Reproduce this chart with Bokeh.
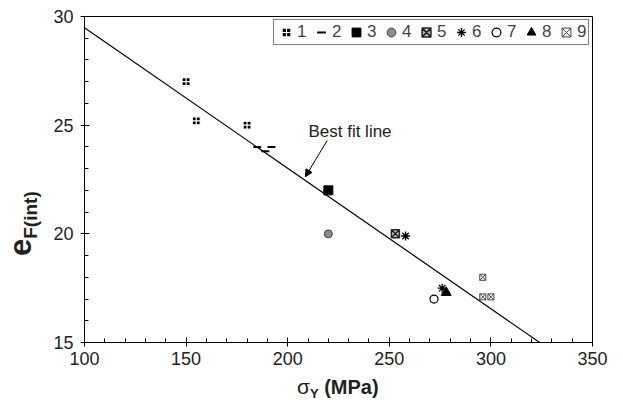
from bokeh.plotting import figure
from bokeh.models import (SingleIntervalTicker, Label, Arrow, NormalHead, Legend, LegendItem, Range1d, Div)
from bokeh.layouts import row, column
from bokeh.embed import file_html
from bokeh.resources import INLINE

# ---- data ----
s1_x = [150, 155, 180]
s1_y = [27.0, 25.2, 25.0]
s2_x = [185, 189, 192]
s2_y = [24.0, 23.8, 24.0]
s3_x = [220]
s3_y = [22.0]
s4_x = [220]
s4_y = [20.0]
s5_x = [253]
s5_y = [20.0]
s6_x = [258, 276]
s6_y = [19.9, 17.5]
s7_x = [272]
s7_y = [17.0]
s8_x = [278]
s8_y = [17.3]
s9_x = [296, 296, 300]
s9_y = [18.0, 17.1, 17.1]

fit_x = [100, 324]
fit_y = [29.48, 15.0]

x_ticks_interval = 50
y_ticks_interval = 5

FONT = "Liberation Sans"

p = figure(width=579, height=372, output_backend="svg", toolbar_location=None,
           x_range=Range1d(100, 350), y_range=Range1d(15, 30),
           min_border_left=40, min_border_right=31, min_border_top=16, min_border_bottom=30)

p.xgrid.visible = False
p.ygrid.visible = False
p.outline_line_color = "black"
p.outline_line_width = 1
p.background_fill_color = "white"
p.border_fill_color = "white"

p.xaxis.ticker = SingleIntervalTicker(interval=x_ticks_interval, num_minor_ticks=5)
p.yaxis.ticker = SingleIntervalTicker(interval=y_ticks_interval, num_minor_ticks=5)
for ax in (p.xaxis, p.yaxis):
    ax.axis_line_color = "black"
    ax.major_tick_line_color = "black"
    ax.minor_tick_line_color = "black"
    ax.major_tick_in = 5
    ax.major_tick_out = 4
    ax.minor_tick_in = 4
    ax.minor_tick_out = 0
    ax.major_label_text_font = FONT
    ax.major_label_text_font_size = "18px"
    ax.major_label_text_color = "#222222"
p.yaxis.major_label_standoff = 7
p.xaxis.major_label_standoff = 5

# best fit line
p.line(fit_x, fit_y, line_color="black", line_width=1.2)

r1 = p.scatter(s1_x, s1_y, marker="square_cross", size=8, fill_color="black", line_color="white", line_width=1.2)
r2 = p.scatter(s2_x, s2_y, marker="dash", size=8, line_color="black", line_width=2)
r3 = p.scatter(s3_x, s3_y, marker="square", size=9, fill_color="black", line_color="black")
r4 = p.scatter(s4_x, s4_y, marker="circle", size=8, fill_color="#8c8c8c", line_color="#444444")
r5 = p.scatter(s5_x, s5_y, marker="square_x", size=8, fill_color="#bdbdbd", line_color="#222222", line_width=1.5)
r6 = p.scatter(s6_x, s6_y, marker="asterisk", size=9, line_color="black", line_width=1.3)
r7 = p.scatter(s7_x, s7_y, marker="circle", size=8, fill_color="white", line_color="black", line_width=1.2)
r8 = p.scatter(s8_x, s8_y, marker="triangle", size=10, fill_color="black", line_color="black")
r9 = p.scatter(s9_x, s9_y, marker="square_x", size=6, fill_color="white", line_color="#444444", line_width=1)

items = [LegendItem(label=str(i + 1), renderers=[r]) for i, r in enumerate([r1, r2, r3, r4, r5, r6, r7, r8, r9])]
legend = Legend(items=items, orientation="horizontal", location="top_right",
                border_line_color="black", border_line_width=1,
                label_text_font=FONT, label_text_font_size="17px",
                glyph_width=22, glyph_height=22, label_height=22, label_width=10, label_standoff=0,
                spacing=3, padding=1, margin=3, background_fill_alpha=1.0)
p.add_layout(legend)

# annotation
p.add_layout(Label(x=210.2, y=24.72, text="Best fit line", text_font=FONT, text_font_size="17px",
                   text_color="#222222", text_baseline="alphabetic"))
p.add_layout(Arrow(end=NormalHead(size=7, fill_color="black", line_color="black"),
                   x_start=219.4, y_start=24.29, x_end=208.7, y_end=22.63,
                   line_color="black", line_width=1))

# y axis label: e_F(int)  (HTML, rotated)
ylabel_html = (
    '<div style="position:absolute; left:6px; top:256px; transform:rotate(-90deg); '
    'transform-origin:left top; white-space:nowrap; font-family:\'Liberation Sans\'; '
    'font-weight:bold; color:#222222; line-height:30px;">'
    '<span style="font-size:31px;">e</span>'
    '<span style="font-size:19px; position:relative; top:6px;">F(int)</span></div>'
)
div_y = Div(text=ylabel_html, width=44, height=402, margin=0,
            styles={"position": "relative", "overflow": "visible"})

# x axis label: sigma_Y (MPa)
xlabel_html = (
    '<div style="position:absolute; left:253px; top:3px; white-space:nowrap; '
    'font-family:\'Liberation Sans\'; color:#222222; line-height:24px;">'
    '<span style="font-size:21px;">σ</span>'
    '<span style="font-size:13px; font-weight:bold; position:relative; top:4px;">Y</span>'
    '<span style="font-size:20px; font-weight:bold;"> (MPa)</span></div>'
)
div_x = Div(text=xlabel_html, width=579, height=30, margin=0,
            styles={"position": "relative", "overflow": "visible"})

layout = row(div_y, column(p, div_x, spacing=0), spacing=0)

open("out.html", "w").write(file_html(layout, INLINE))
